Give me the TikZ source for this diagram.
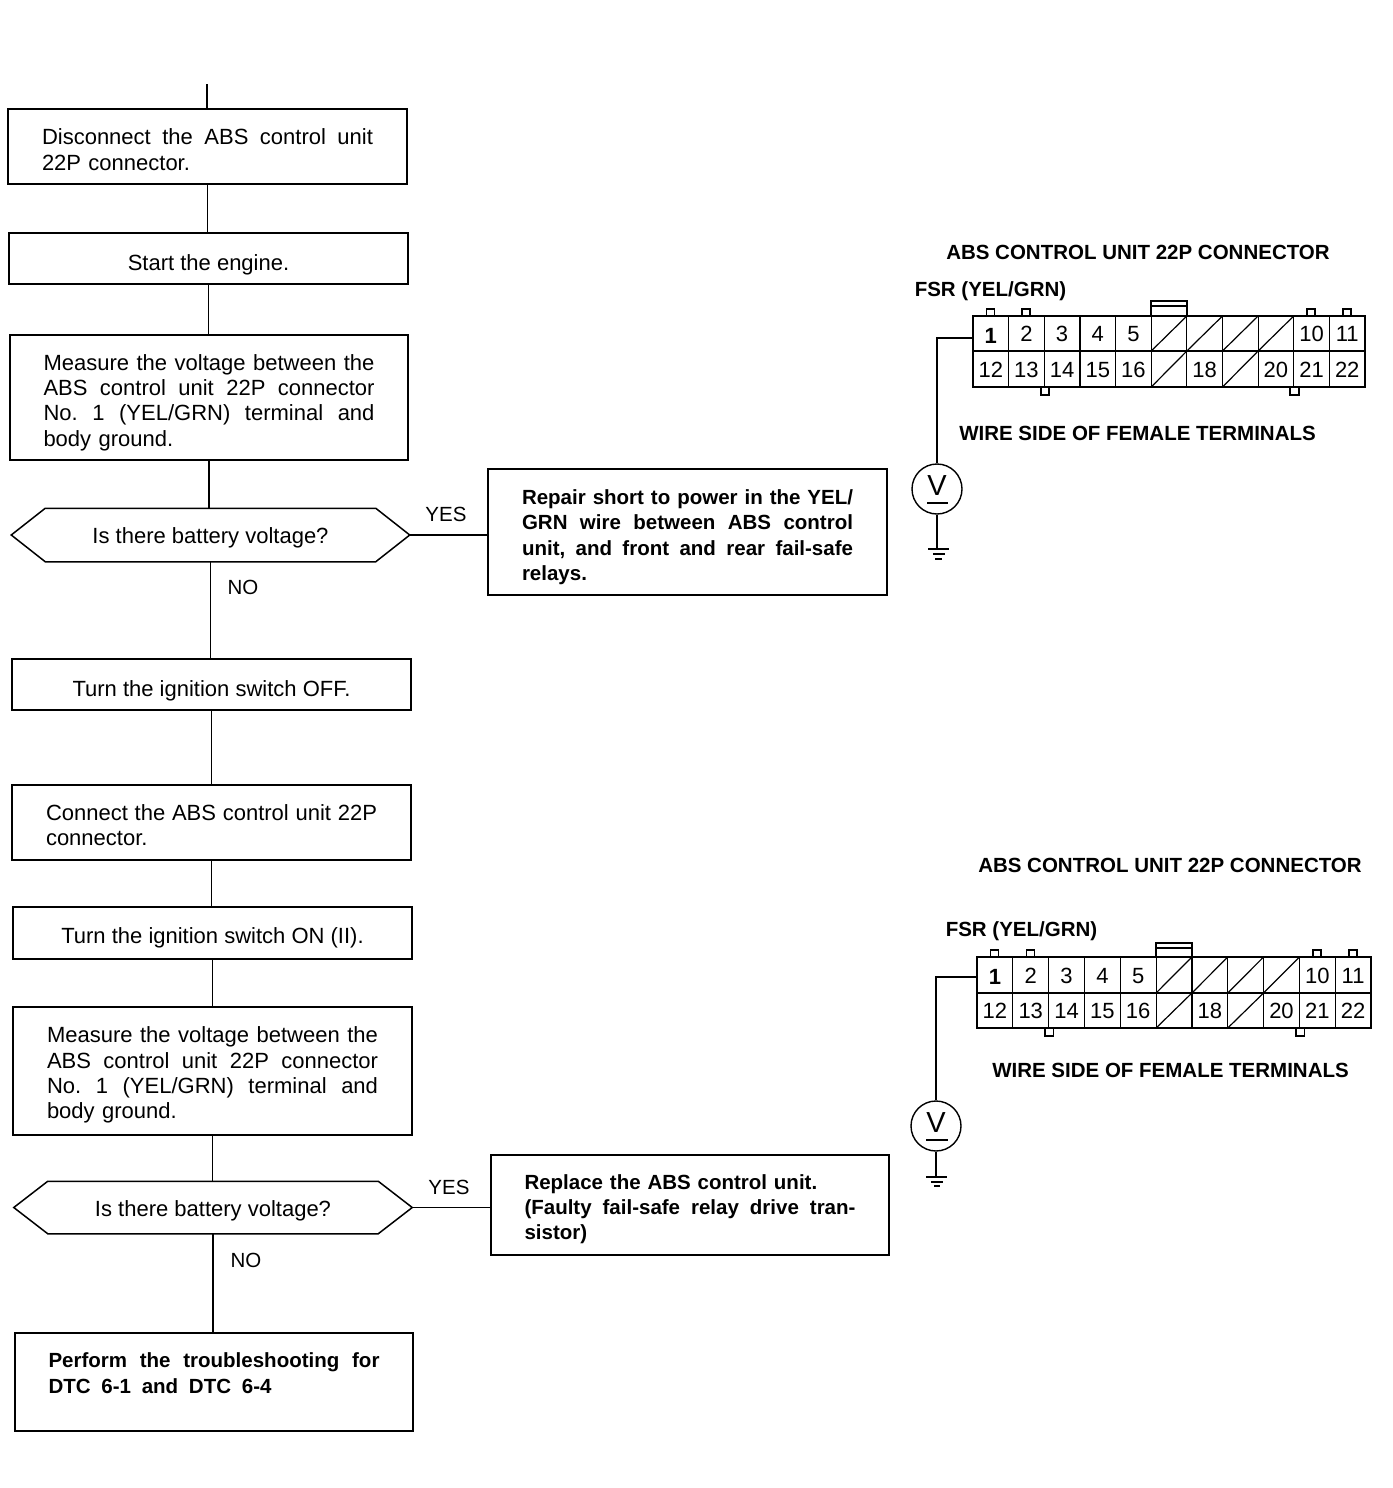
\documentclass[tikz,border=0pt]{standalone}
\usepackage{fontspec}
\setmainfont{Liberation Sans}
\usetikzlibrary{calc}
\newcommand\jlw[2]{\leavevmode\hbox to #1pt{\frenchspacing\spaceskip=0pt\xspaceskip=0pt #2}}
\newcommand\jl[1]{\jlw{331}{#1}}
\newcommand\dn[1]{\rule{0pt}{#1pt}}
\newcommand\fsbody{\fontsize{22}{25.3}\selectfont}
\newcommand\fsbold{\bfseries\fontsize{20.5}{25.3}\selectfont}
\newcommand\fsyn{\fontsize{20.5}{25}\selectfont}
\newcommand\fshead{\bfseries\fontsize{20.5}{25}\selectfont}
\tikzset{
  x=1pt,y=-1pt,
  every path/.style={line width=1.5pt,black},
  boxn/.style={draw,rectangle,inner ysep=0pt,inner xsep=0pt,font=\fsbody},
  lbox/.style={boxn,align=left,text width=331pt},
  cbox/.style={boxn},
  btxt/.style={font=\fsbold},
  yn/.style={font=\fsyn,inner sep=0pt},
  hexn/.style={rectangle,inner sep=0pt,font=\fsbody},
  conn/.style={line width=1.5pt},
  head/.style={font=\fshead,inner sep=0pt,anchor=center},
  pin/.style={font=\fontsize{22}{22}\selectfont,inner sep=0pt,text height=16pt,text depth=0pt},
  pinb/.style={font=\fontsize{22}{22}\selectfont\bfseries,inner sep=0pt,text height=16pt,text depth=0pt},
  meter/.style={draw,circle,inner sep=0pt,minimum size=50pt,line width=1.4pt},
  vlet/.style={inner sep=0pt,font=\fontsize{29}{29}\selectfont},
}
\newcommand\hexagon[2]{%
  \draw ($(#1.north west)+(#2,0)$) -- ($(#1.north east)+(-#2,0)$) -- (#1.east)
     -- ($(#1.south east)+(-#2,0)$) -- ($(#1.south west)+(#2,0)$) -- (#1.west) -- cycle;}
\newcommand\connector[8]{%
  % #1 name prefix, #2 left, #3 top, #4 mid, #5 bottom, #6 dx, #7 bold-label yshift, #8 wide tab top
  \pgfmathsetmacro\dx{#6}
  \pgfmathsetmacro\rgt{#2+11*\dx}
  \draw[line width=2.2pt] (#2,#3) rectangle (\rgt,#5);
  \draw[line width=1.6pt] (#2,#4) -- (\rgt,#4);
  \foreach \i in {1,...,10}{\pgfmathsetmacro\xx{#2+\i*\dx}\draw[line width=1.2pt] (\xx,#3) -- (\xx,#5);}
  \foreach \i in {5,6,7,8}{\pgfmathsetmacro\xa{#2+\i*\dx}\pgfmathsetmacro\xb{\xa+\dx}\draw[line width=1.2pt] (\xa,#4) -- (\xb,#3);}
  \foreach \i in {5,7}{\pgfmathsetmacro\xa{#2+\i*\dx}\pgfmathsetmacro\xb{\xa+\dx}\draw[line width=1.2pt] (\xa,#5) -- (\xb,#4);}
  \foreach \i in {0,1,9,10}{\pgfmathsetmacro\xa{#2+\i*\dx+13.5}\pgfmathsetmacro\xb{\xa+8}\pgfmathsetmacro\yt{#3-7}\draw[line width=1.6pt] (\xa,#3) -- (\xa,\yt) -- (\xb,\yt) -- (\xb,#3);}
  \pgfmathsetmacro\xa{#2+5*\dx}\pgfmathsetmacro\xb{\xa+\dx}\pgfmathsetmacro\ym{#8+5}
  \draw[line width=1.6pt] (\xa,#3) -- (\xa,#8) -- (\xb,#8) -- (\xb,#3);
  \draw[line width=1.2pt] (\xa,\ym) -- (\xb,\ym);
  \foreach \i in {2,9}{\pgfmathsetmacro\xa{#2+\i*\dx-3.5}\pgfmathsetmacro\xb{\xa+8.5}\pgfmathsetmacro\yb{#5+8}\draw[line width=1.6pt] (\xa,#5) -- (\xa,\yb) -- (\xb,\yb) -- (\xb,#5);}
  \foreach \lab/\i in {2/1,3/2,4/3,5/4,10/9,11/10}{\pgfmathsetmacro\xa{#2+(\i+.5)*\dx}\pgfmathsetmacro\ya{(#3+#4)/2}\node[pin] (#1u\lab) at (\xa,\ya) {\lab};}
  \pgfmathsetmacro\xa{#2+.5*\dx}\pgfmathsetmacro\ya{(#3+#4)/2+#7}\node[pinb] (#1u1) at (\xa,\ya) {1};
  \foreach \lab/\i in {12/0,13/1,14/2,15/3,16/4,18/6,20/8,21/9,22/10}{\pgfmathsetmacro\xa{#2+(\i+.5)*\dx}\pgfmathsetmacro\ya{(#4+#5)/2}\node[pin] (#1l\lab) at (\xa,\ya) {\lab};}
}
\begin{document}
\begin{tikzpicture}
\useasboundingbox (0,0) rectangle (1392,1488);
% flow boxes
\node[lbox,minimum width=399pt,minimum height=75pt] (b1) at (207.5,146.5) {\dn{22}\jl{Disconnect the ABS control unit}\\22P connector.};
\node[cbox,minimum width=399pt,minimum height=51pt] (b2) at (208.5,258.5) {\dn{28}Start the engine.};
\node[lbox,minimum width=398pt,minimum height=125pt] (b3) at (209,397.5) {\dn{26}\jl{Measure the voltage between the}\\\jl{ABS control unit 22P connector}\\\jl{No. 1 (YEL/GRN) terminal and}\\body ground.};
\node[hexn,minimum width=397pt,minimum height=52pt] (d1) at (210.5,535) {\dn{22}Is there battery voltage?};
\hexagon{d1}{34}
\node[lbox,btxt,minimum width=399pt,minimum height=126pt] (b4) at (687.5,532) {\dn{25}\jl{Repair short to power in the YEL/}\\\jl{GRN wire between ABS control}\\\jl{unit, and front and rear fail-safe}\\relays.};
\node[cbox,minimum width=399pt,minimum height=51pt] (b5) at (211.5,684.5) {\dn{28}Turn the ignition switch OFF.};
\node[lbox,minimum width=399pt,minimum height=75pt] (b6) at (211.5,822.5) {\dn{21}\jl{Connect the ABS control unit 22P}\\connector.};
\node[cbox,minimum width=399pt,minimum height=52pt] (b7) at (212.5,933) {\dn{26}Turn the ignition switch ON (II).};
\node[lbox,minimum width=399pt,minimum height=128pt] (b8) at (212.5,1071) {\dn{24}\jl{Measure the voltage between the}\\\jl{ABS control unit 22P connector}\\\jl{No. 1 (YEL/GRN) terminal and}\\body ground.};
\node[hexn,minimum width=397pt,minimum height=51pt] (d2) at (213,1207.5) {\dn{22}Is there battery voltage?};
\hexagon{d2}{34}
\node[lbox,btxt,minimum width=398pt,minimum height=100pt] (b9) at (690,1205) {\dn{23}Replace the ABS control unit.\\\jl{(Faulty fail-safe relay drive tran-}\\sistor)};
\node[lbox,btxt,minimum width=398pt,minimum height=98pt] (b10) at (214,1382) {\dn{22}\jl{Perform the troubleshooting for}\\\jlw{223}{DTC 6-1 and DTC 6-4}\\\mbox{}};
% connectors
\coordinate (start) at (207,84);
\draw[conn] (start) -- (start |- b1.north);
\draw[conn] (b1.south) -- (b1.south |- b2.north);
\draw[conn] (b2.south) -- (b2.south |- b3.north);
\draw[conn] (b3.south) -- (b3.south |- d1.north);
\draw[conn] (d1.south) -- (d1.south |- b5.north);
\draw[conn] (b5.south) -- (b5.south |- b6.north);
\draw[conn] (b6.south) -- (b6.south |- b7.north);
\draw[conn] (b7.south) -- (b7.south |- b8.north);
\draw[conn] (b8.south) -- (b8.south |- d2.north);
\draw[conn] (d2.south) -- (d2.south |- b10.north);
\draw[conn] (d1.east) -- (d1.east -| b4.west);
\draw[conn] (d2.east) -- (d2.east -| b9.west);
\node[yn] (y1) at (446,514) {YES};
\node[yn] (n1) at (243,587) {NO};
\node[yn] (y2) at (449,1187) {YES};
\node[yn] (n2) at (246,1260) {NO};
% connector 1
\node[head] (h1) at (1138,252) {ABS CONTROL UNIT 22P CONNECTOR};
\node[head] (f1) at (990.5,291) {FSR (YEL/GRN)};
\node[head] (w1) at (1137.5,433) {WIRE SIDE OF FEMALE TERMINALS};
\connector{a}{973}{316}{351}{387}{35.64}{2}{301}
\node[meter] (m1) at (937,489) {};
\node[vlet] (mv1) at (937,486) {V};
\draw[line width=2pt] (927,503) -- (948,503);
\coordinate (wa) at (973,338);
\coordinate (g1) at (938,549);
\draw[conn] (wa) -| (m1.north);
\draw[conn] (m1.south) -- (m1.south |- g1);
\draw[line width=1.8pt] (928,549) -- (949,549) (933,554) -- (945,554) (935,559) -- (942,559);
% connector 2
\node[head] (h2) at (1170,865) {ABS CONTROL UNIT 22P CONNECTOR};
\node[head] (f2) at (1021.5,931) {FSR (YEL/GRN)};
\node[head] (w2) at (1170.5,1070) {WIRE SIDE OF FEMALE TERMINALS};
\connector{c}{977}{957}{993}{1028}{35.82}{1}{943}
\node[meter] (m2) at (936,1126) {};
\node[vlet] (mv2) at (936,1123) {V};
\draw[line width=1.6pt] (926,1140) -- (948,1140);
\coordinate (wb) at (977,977);
\coordinate (g2) at (936,1177);
\draw[conn] (wb) -| (m2.north);
\draw[conn] (m2.south) -- (m2.south |- g2);
\draw[line width=1.8pt] (926,1177) -- (947,1177) (931,1182) -- (943,1182) (934,1186) -- (940,1186);
\end{tikzpicture}
\end{document}
